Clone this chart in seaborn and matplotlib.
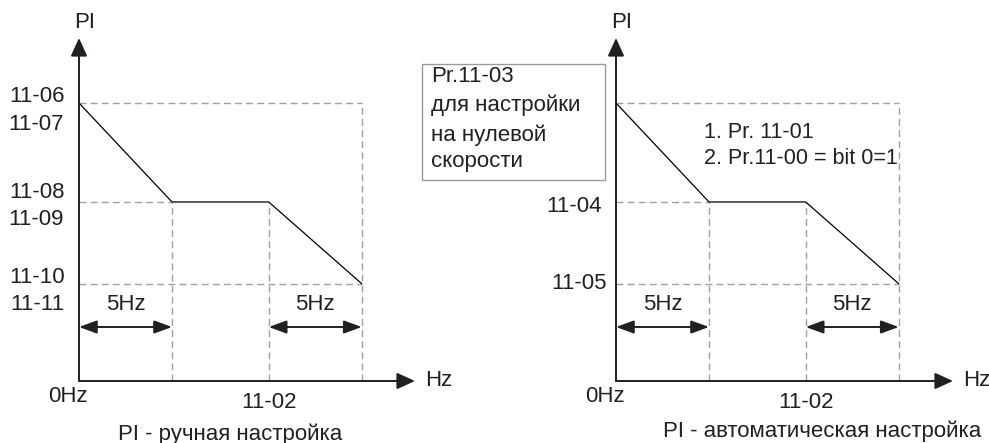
import matplotlib
matplotlib.use('Agg')
import matplotlib.pyplot as plt
import seaborn as sns
from matplotlib.patches import Rectangle

# PI curve: frequency breakpoints (Hz-like units) and PI level (normalised)
freq_pts = [0, 5, 10.2, 15.2]
pi_pts = [1.0, 0.644, 0.644, 0.35]

left_tick_labels = [('11-06', '11-07'), ('11-08', '11-09'), ('11-10', '11-11')]
right_tick_labels = ['11-04', '11-05']
x_labels = ['0Hz', '11-02']
step_label = '5Hz'
titles = ['PI - ручная настройка', 'PI - автоматическая настройка']
box_lines = ['Pr.11-03', 'для настройки', 'на нулевой', 'скорости']
note_lines = ['1. Pr. 11-01', '2. Pr.11-00 = bit 0=1']

sns.set_theme(style='white')
plt.rcParams['font.family'] = ['Liberation Sans', 'DejaVu Sans']

W, H = 989, 443
fig = plt.figure(figsize=(W / 100, H / 100), dpi=100)
ink = '#231f20'
dash = '#a0a0a0'
fl = 16


def fx(x):
    return x / W


def fy(y):
    return 1 - y / H


def make_panel(x0, x_tip, sx):
    # origin at pixel (x0, 381), y-scale 278 px per unit
    ax = fig.add_axes([fx(x0), fy(381), (x_tip - x0) / W, (381 - 38) / H])
    ax.set_xlim(0, (x_tip - x0) / sx)
    ax.set_ylim(0, 343 / 278)
    ax.axis('off')
    ax.patch.set_alpha(0)
    return ax


def draw_panel(ax):
    xmax, ymax = ax.get_xlim()[1], ax.get_ylim()[1]
    dkw = dict(color=dash, lw=1.0, linestyles=(0, (5, 3)), clip_on=False)
    ax.hlines([pi_pts[0], pi_pts[3]], 0, freq_pts[3], **dkw)
    ax.hlines(pi_pts[1], 0, freq_pts[1], **dkw)
    ax.vlines([freq_pts[1], freq_pts[2]], 0, pi_pts[1], **dkw)
    ax.vlines(freq_pts[3], 0, pi_pts[0], **dkw)
    sns.lineplot(x=freq_pts, y=pi_pts, ax=ax, color='black', lw=0.9,
                 estimator=None, sort=False, clip_on=False)
    akw = dict(arrowstyle='-|>,head_length=0.55,head_width=0.25', color=ink,
               lw=1.4, mutation_scale=20, shrinkA=0, shrinkB=0)
    ax.annotate('', xy=(xmax, 0), xytext=(0, 0), arrowprops=akw,
                annotation_clip=False)
    ax.annotate('', xy=(0, ymax), xytext=(0, 0), arrowprops=akw,
                annotation_clip=False)
    bkw = dict(arrowstyle='<|-|>,head_length=0.6,head_width=0.22', color=ink,
               lw=1.4, mutation_scale=18, shrinkA=0, shrinkB=0)
    ya = 54 / 278
    for a, b in [(freq_pts[0], freq_pts[1]), (freq_pts[2], freq_pts[3])]:
        ax.annotate('', xy=(b, ya), xytext=(a, ya), arrowprops=bkw,
                    annotation_clip=False)
        ax.annotate(step_label, xy=((a + b) / 2, ya), xytext=(0, 22),
                    textcoords='offset pixels', ha='center', va='center',
                    fontsize=fl, color=ink)
    ax.annotate(x_labels[0], xy=(0, 0), xytext=(-11, -16),
                textcoords='offset pixels', ha='center', va='center',
                fontsize=fl, color=ink)
    ax.annotate(x_labels[1], xy=(freq_pts[2], 0), xytext=(0, -22),
                textcoords='offset pixels', ha='center', va='center',
                fontsize=fl, color=ink)
    ax.annotate('Hz', xy=(xmax, 0), xytext=(10, 0),
                textcoords='offset pixels', ha='left', va='center',
                fontsize=fl, color=ink)
    ax.annotate('PI', xy=(0, ymax), xytext=(-5, 15),
                textcoords='offset pixels', ha='left', va='center',
                fontsize=fl, color=ink)


# left panel: manual tuning
axl = make_panel(79, 415, 93 / 5)
draw_panel(axl)
for lvl, (top, bot), dy in zip([pi_pts[0], pi_pts[1], pi_pts[3]],
                               left_tick_labels, [6, 9, 6]):
    axl.annotate(top, xy=(0, lvl), xytext=(-14, dy),
                 textcoords='offset pixels', ha='right', va='center',
                 fontsize=fl, color=ink)
    axl.annotate(bot, xy=(0, lvl), xytext=(-15, dy - 27),
                 textcoords='offset pixels', ha='right', va='center',
                 fontsize=fl, color=ink)

# right panel: auto tuning
axr = make_panel(616, 953, 93 / 5)
draw_panel(axr)
for lvl, lab, dx, dy in zip([pi_pts[1], pi_pts[3]], right_tick_labels,
                            [-14, -9], [-5, 0]):
    axr.annotate(lab, xy=(0, lvl), xytext=(dx, dy),
                 textcoords='offset pixels', ha='right', va='center',
                 fontsize=fl, color=ink)

fig.text(fx(230), fy(434), titles[0], ha='center', va='center',
         fontsize=fl, color=ink)
fig.text(fx(822), fy(431), titles[1], ha='center', va='center',
         fontsize=fl, color=ink)

fig.add_artist(Rectangle((fx(422), fy(180)), (605 - 422) / W, (180 - 64) / H,
                         transform=fig.transFigure, fill=False,
                         edgecolor='#9a9a9a', lw=1.0))
for line, yc in zip(box_lines, [77, 105, 135, 162]):
    fig.text(fx(431), fy(yc), line, ha='left', va='center',
             fontsize=fl, color=ink)
for line, yc in zip(note_lines, [133, 159]):
    fig.text(fx(704), fy(yc), line, ha='left', va='center',
             fontsize=15.5, color=ink)

fig.savefig('out.png', dpi=100, facecolor='white')
